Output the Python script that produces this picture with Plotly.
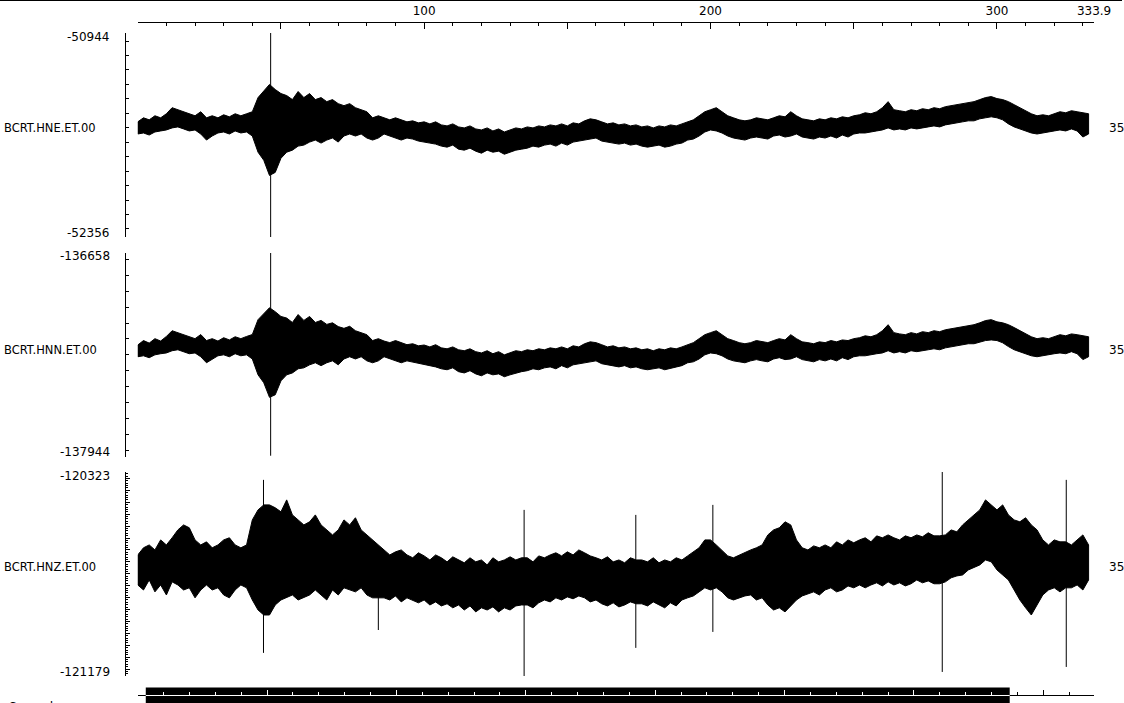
import plotly.graph_objects as go

# The photographed page comes out horizontally scaled by about 1124/1139, so the
# figure is laid out 1139 px wide with positions expressed in 1124-px units.
VIEW_W, H = 1124, 703
W = 1139

# ---------------- data ----------------
times = list(range(0, 334, 2))          # s, envelope sampled every 2 s
window_length = 333.9                    # s shown on top axis
top_tick_vals = [0, 50, 100, 150, 200, 250, 300, 333.9]
top_tick_text = ["", "", "100", "", "200", "", "300", "333.9"]

record_length = 369.6                    # s, overview (bottom) axis
window_start, window_end = 3.1, 337.0    # visible part of the record

station_names = ["BCRT.HNE.ET.00", "BCRT.HNN.ET.00", "BCRT.HNZ.ET.00"]
right_label = "35"

# envelope of each trace (counts relative to the trace baseline): upper / lower
hne_limits = [-52356, -50944]
hne_base = -51594
hne_hi = [35, 63, 49, 77, 63, 91, 133, 119, 105, 91,
          77, 105, 63, 77, 63, 84, 70, 91, 77, 91,
          105, 203, 245, 294, 259, 231, 217, 189, 245, 203,
          231, 189, 203, 175, 189, 161, 147, 161, 133, 119,
          105, 63, 77, 63, 49, 63, 49, 35, 42, 28,
          35, 21, 35, 14, 7, 21, 0, -7, 7, -14,
          -21, -7, -28, -14, -35, -21, -7, -14, 0, -7,
          7, 0, 14, 7, 21, 7, 28, 21, 42, 56,
          49, 35, 21, 28, 14, 21, 7, 14, 0, 7,
          -7, 7, 0, 14, 7, 21, 35, 49, 77, 105,
          119, 133, 105, 77, 63, 49, 42, 49, 63, 56,
          49, 63, 77, 70, 105, 77, 56, 49, 42, 56,
          49, 63, 56, 70, 63, 77, 84, 98, 91, 105,
          133, 175, 119, 112, 105, 119, 112, 126, 119, 133,
          126, 140, 147, 154, 161, 168, 175, 189, 203, 210,
          196, 189, 175, 154, 133, 112, 91, 77, 84, 77,
          91, 105, 98, 112, 105, 98, 91]
hne_lo = [-49, -42, -56, -35, -28, -21, -7, 0, -14, -28,
          -21, -49, -91, -63, -42, -35, -49, -28, -42, -35,
          -63, -175, -231, -336, -315, -217, -175, -161, -133, -126,
          -105, -91, -112, -91, -77, -105, -63, -49, -63, -49,
          -77, -91, -77, -49, -63, -77, -91, -77, -84, -98,
          -105, -112, -119, -133, -140, -126, -154, -161, -147, -168,
          -182, -161, -175, -168, -189, -175, -161, -154, -147, -133,
          -140, -126, -119, -133, -112, -126, -105, -98, -91, -84,
          -77, -98, -105, -112, -119, -112, -126, -119, -133, -140,
          -133, -126, -140, -133, -119, -112, -91, -84, -63, -35,
          -21, -28, -42, -63, -77, -84, -91, -77, -70, -77,
          -84, -63, -56, -70, -63, -49, -70, -77, -84, -70,
          -77, -63, -77, -56, -70, -49, -42, -42, -35, -28,
          -21, -7, -21, -14, -21, -7, -14, -7, 0, 7,
          0, 14, 21, 28, 35, 42, 42, 56, 63, 70,
          63, 49, 21, 0, -14, -28, -42, -49, -42, -35,
          -28, -21, -28, -14, -28, -70, -49]
hne_spike_t = [46.4]
hne_spike_top = [665]
hne_spike_bottom = [-777]

hnn_limits = [-137944, -136658]
hnn_base = -137268
hnn_hi = [30, 58, 42, 70, 55, 84, 120, 108, 95, 80,
          70, 96, 58, 70, 55, 76, 62, 82, 70, 84,
          96, 190, 225, 265, 240, 210, 200, 172, 222, 185,
          210, 172, 185, 160, 170, 146, 135, 148, 120, 108,
          95, 58, 70, 55, 45, 58, 45, 32, 38, 25,
          30, 18, 32, 12, 6, 18, 0, -6, 6, -12,
          -20, -6, -25, -12, -32, -18, -6, -12, 0, -6,
          6, 0, 12, 6, 18, 6, 25, 18, 38, 50,
          45, 32, 18, 25, 12, 18, 6, 12, 0, 6,
          -6, 6, 0, 12, 6, 18, 32, 45, 70, 95,
          108, 120, 95, 70, 58, 45, 38, 45, 58, 50,
          45, 58, 70, 62, 95, 70, 50, 45, 38, 50,
          45, 58, 50, 62, 58, 70, 76, 88, 82, 95,
          120, 158, 108, 100, 95, 108, 100, 114, 108, 120,
          114, 126, 132, 140, 146, 152, 158, 170, 184, 190,
          176, 170, 158, 140, 120, 100, 82, 70, 76, 70,
          82, 95, 88, 100, 95, 88, 82]
hnn_lo = [-44, -38, -50, -32, -25, -20, -6, 0, -12, -25,
          -20, -44, -82, -58, -38, -32, -44, -25, -38, -32,
          -58, -158, -208, -300, -284, -196, -158, -146, -120, -114,
          -95, -82, -100, -82, -70, -95, -58, -44, -58, -44,
          -70, -82, -70, -44, -58, -70, -82, -70, -76, -88,
          -95, -100, -108, -120, -126, -114, -138, -146, -132, -152,
          -164, -146, -158, -152, -170, -158, -146, -138, -132, -120,
          -126, -114, -108, -120, -100, -114, -95, -88, -82, -76,
          -70, -88, -95, -100, -108, -100, -114, -108, -120, -126,
          -120, -114, -126, -120, -108, -100, -82, -76, -58, -32,
          -20, -25, -38, -58, -70, -76, -82, -70, -62, -70,
          -76, -58, -50, -62, -58, -44, -62, -70, -76, -62,
          -70, -58, -70, -50, -62, -44, -38, -38, -32, -25,
          -20, -6, -20, -12, -20, -6, -12, -6, 0, 6,
          0, 12, 20, 25, 32, 38, 38, 50, 58, 62,
          58, 44, 20, 0, -12, -25, -38, -44, -38, -32,
          -25, -20, -25, -12, -25, -62, -44]
hnn_spike_t = [46.4]
hnn_spike_top = [630]
hnn_spike_bottom = [-668]

hnz_limits = [-121179, -120323]
hnz_base = -120721
hnz_hi = [50, 80, 92, 71, 113, 92, 122, 155, 176, 164,
          113, 92, 105, 80, 92, 113, 122, 92, 80, 92,
          197, 239, 260, 260, 248, 231, 281, 218, 197, 176,
          189, 218, 176, 155, 134, 155, 197, 176, 206, 155,
          134, 113, 92, 71, 50, 63, 71, 50, 38, 59,
          46, 29, 50, 38, 21, 42, 29, 17, 38, 21,
          29, 8, 38, 21, 29, 42, 29, 38, 38, 21,
          46, 38, 50, 59, 46, 63, 50, 71, 59, 46,
          38, 29, 42, 21, 29, 17, 38, 29, 29, 21,
          38, 17, 29, 21, 38, 29, 46, 63, 80, 113,
          113, 92, 71, 46, 38, 50, 59, 71, 80, 92,
          134, 155, 164, 189, 176, 113, 80, 71, 88, 80,
          92, 80, 105, 92, 113, 101, 113, 122, 105, 130,
          122, 134, 122, 113, 130, 122, 134, 126, 143, 130,
          130, 134, 155, 147, 176, 197, 218, 239, 281, 260,
          239, 260, 218, 197, 189, 206, 176, 155, 113, 92,
          113, 105, 105, 92, 113, 134, 92]
hnz_lo = [-76, -97, -55, -105, -76, -118, -63, -76, -97, -88,
          -130, -97, -76, -97, -88, -118, -130, -97, -76, -88,
          -139, -181, -202, -202, -160, -139, -130, -118, -139, -130,
          -118, -97, -118, -139, -97, -118, -88, -97, -105, -88,
          -118, -130, -130, -130, -139, -122, -147, -130, -139, -151,
          -139, -160, -147, -164, -155, -172, -160, -181, -164, -189,
          -172, -181, -168, -189, -172, -181, -164, -160, -160, -172,
          -151, -139, -147, -130, -139, -126, -134, -122, -130, -147,
          -139, -155, -164, -151, -168, -160, -147, -155, -155, -164,
          -147, -160, -172, -151, -164, -139, -130, -122, -105, -88,
          -97, -88, -105, -130, -139, -130, -122, -118, -139, -130,
          -160, -181, -172, -189, -164, -139, -122, -113, -105, -118,
          -97, -88, -105, -97, -80, -88, -76, -88, -76, -67,
          -80, -63, -76, -67, -80, -71, -55, -67, -59, -71,
          -71, -63, -46, -38, -34, -13, -4, 8, 29, 21,
          -13, -34, -55, -97, -139, -172, -202, -160, -118, -97,
          -88, -105, -88, -88, -76, -97, -55]
hnz_spike_t = [43.9, 84.0, 134.9, 173.9, 200.8, 280.9, 324.2]
hnz_spike_top = [365, 40, 239, 218, 260, 407, 365]
hnz_spike_bottom = [-361, -265, -458, -340, -273, -441, -420]

# ---------------- layout helpers (reference pixels -> paper) ----------------
def px_x(p):
    return p / VIEW_W

def px_y(p):
    return 1 - p / H

FONT = "DejaVu Sans"
panel_px = [(33, 237), (253, 457), (472, 676)]
label_px = [128, 350, 567]
label_shift = [(-4, 4), (-3, 5), (-4, 4)]   # (top label, bottom label) yshift
axis_x = px_x(125)
x_domain = [px_x(138), px_x(1096)]

fig = go.Figure()
series = [
    (hne_base, hne_hi, hne_lo, hne_spike_t, hne_spike_top, hne_spike_bottom),
    (hnn_base, hnn_hi, hnn_lo, hnn_spike_t, hnn_spike_top, hnn_spike_bottom),
    (hnz_base, hnz_hi, hnz_lo, hnz_spike_t, hnz_spike_top, hnz_spike_bottom),
]
yids = ["y", "y2", "y3"]
for (base, hi, lo, st, stop, sbot), yid in zip(series, yids):
    # filled envelope band
    xs = list(times) + list(reversed(times)) + [times[0]]
    ys = [base + h for h in hi] + [base + l for l in reversed(lo)] + [base + hi[0]]
    fig.add_trace(go.Scatter(x=xs, y=ys, mode="lines", fill="toself", fillcolor="black",
                             xaxis="x", yaxis=yid, line=dict(color="black", width=1),
                             hoverinfo="skip"))
    # vertical spikes
    sx, sy = [], []
    for t_, a, b in zip(st, stop, sbot):
        sx += [t_, t_, None]
        sy += [base + a, base + b, None]
    fig.add_trace(go.Scatter(x=sx, y=sy, mode="lines", xaxis="x", yaxis=yid,
                             line=dict(color="black", width=1), hoverinfo="skip"))

# empty traces so every helper axis gets its own subplot
for xa, ya in [("x2", "y"), ("x3", "y"), ("x4", "y"), ("x5", "y"), ("x", "y4")]:
    fig.add_trace(go.Scatter(x=[], y=[], xaxis=xa, yaxis=ya, hoverinfo="skip"))

limits = [hne_limits, hnn_limits, hnz_limits]
minor_steps = [100, 100, 10]
minor_len = [3, 3, 2]

x5_domain = [x_domain[0] + (x_domain[1] - x_domain[0]) * window_start / record_length,
             x_domain[0] + (x_domain[1] - x_domain[0]) * window_end / record_length]

layout = dict(
    width=W, height=H, autosize=False, margin=dict(l=0, r=0, t=0, b=0),
    paper_bgcolor="white", plot_bgcolor="rgba(0,0,0,0)", showlegend=False,
    font=dict(family=FONT, size=12, color="black"),
    xaxis=dict(domain=x_domain, range=[0, window_length], visible=False, anchor="y"),
    xaxis2=dict(overlaying="x", range=[0, window_length], side="top", anchor="free",
                position=px_y(22), showline=True, linecolor="black", linewidth=1,
                ticks="inside", tickmode="array", tickvals=top_tick_vals,
                ticktext=top_tick_text, ticklen=6, tickcolor="black", showgrid=False,
                zeroline=False, ticklabelstandoff=2,
                tickfont=dict(family=FONT, size=12, color="black"),
                minor=dict(tickmode="linear", tick0=0, dtick=10, ticklen=3,
                           ticks="inside", tickcolor="black", showgrid=False)),
    xaxis3=dict(domain=x_domain, range=[0, record_length], anchor="free",
                position=px_y(695), showline=True, linecolor="black", linewidth=1,
                ticks="inside", tickmode="array", tickvals=[0, record_length],
                ticklen=7, tickcolor="black", showticklabels=False, showgrid=False,
                zeroline=False,
                minor=dict(tickmode="array", tickvals=[340, 360], ticklen=3,
                           ticks="inside", tickcolor="black", showgrid=False)),
    xaxis4=dict(overlaying="x3", range=[0, record_length], anchor="free",
                position=px_y(695), showline=False, ticks="inside",
                tickmode="array", tickvals=[350], ticklen=5, tickcolor="black",
                showticklabels=False, showgrid=False, zeroline=False),
    xaxis5=dict(domain=x5_domain, range=[window_start, window_end], anchor="free",
                position=px_y(695), showline=False, ticks="inside", tickmode="array",
                tickvals=[v for v in range(50, 337, 50)], ticklen=5, tickcolor="white",
                showticklabels=False, showgrid=False, zeroline=False,
                minor=dict(tickmode="array",
                           tickvals=[v for v in range(10, 337, 10) if v % 50],
                           ticklen=3, ticks="inside", tickcolor="white", showgrid=False)),
)

for i, yid in enumerate(yids):
    key = "yaxis" if i == 0 else "yaxis%d" % (i + 1)
    top, bot = panel_px[i]
    lo_v, hi_v = limits[i]
    layout[key] = dict(domain=[px_y(bot), px_y(top)], range=[lo_v, hi_v], anchor="free",
                       position=axis_x, showline=True, linecolor="black", linewidth=1,
                       ticks="inside", tickmode="array", tickvals=[lo_v, hi_v], ticklen=6,
                       tickcolor="black", showticklabels=False, showgrid=False,
                       zeroline=False,
                       minor=dict(tickmode="linear", tick0=0, dtick=minor_steps[i],
                                  ticklen=minor_len[i], ticks="inside", tickcolor="black",
                                  showgrid=False))

layout["yaxis4"] = dict(overlaying="y3", range=hnz_limits, anchor="free", position=axis_x,
                        showline=False, ticks="inside", tickmode="linear", tick0=0, dtick=50,
                        ticklen=4, tickcolor="black", showticklabels=False, showgrid=False,
                        zeroline=False)

fig.update_layout(**layout)

annotations = []
for i, yid in enumerate(yids):
    lo_v, hi_v = limits[i]
    s_top, s_bot = label_shift[i]
    annotations.append(dict(x=px_x(112.5), xref="paper", y=hi_v, yref=yid, yshift=s_top,
                            text=str(hi_v), showarrow=False, xanchor="right",
                            yanchor="middle", font=dict(family=FONT, size=12)))
    annotations.append(dict(x=px_x(112.5), xref="paper", y=lo_v, yref=yid, yshift=s_bot,
                            text=str(lo_v), showarrow=False, xanchor="right",
                            yanchor="middle", font=dict(family=FONT, size=12)))
    annotations.append(dict(x=px_x(2), xref="paper", y=px_y(label_px[i]), yref="paper",
                            text=station_names[i], showarrow=False, xanchor="left",
                            yanchor="middle", font=dict(family=FONT, size=11.5)))
    annotations.append(dict(x=px_x(1109), xref="paper", y=px_y(label_px[i]), yref="paper",
                            text=right_label, showarrow=False, xanchor="left",
                            yanchor="middle", font=dict(family=FONT, size=12)))
annotations.append(dict(x=px_x(7), xref="paper", y=px_y(707), yref="paper",
                        text="Seconds ->", showarrow=False, xanchor="left",
                        yanchor="middle", font=dict(family=FONT, size=12)))
fig.update_layout(annotations=annotations)

shapes = [
    dict(type="line", xref="paper", yref="paper", x0=0, x1=1, y0=1, y1=1,
         line=dict(color="black", width=2)),
    dict(type="rect", xref="x3", yref="paper", x0=window_start, x1=window_end,
         y0=px_y(704), y1=px_y(687.5), fillcolor="black", line=dict(width=0),
         layer="below"),
    dict(type="line", xref="x3", yref="paper", x0=window_start, x1=window_end,
         y0=px_y(695.5), y1=px_y(695.5), line=dict(color="white", width=1),
         layer="above"),
]
fig.update_layout(shapes=shapes)

fig.write_html(
    "out.html",
    config={"responsive": False, "displayModeBar": False},
    post_script=("document.documentElement.style.margin='0';"
                 "document.documentElement.style.overflow='hidden';"
                 "document.body.style.margin='0';"
                 "document.body.style.overflow='hidden';"),
)
